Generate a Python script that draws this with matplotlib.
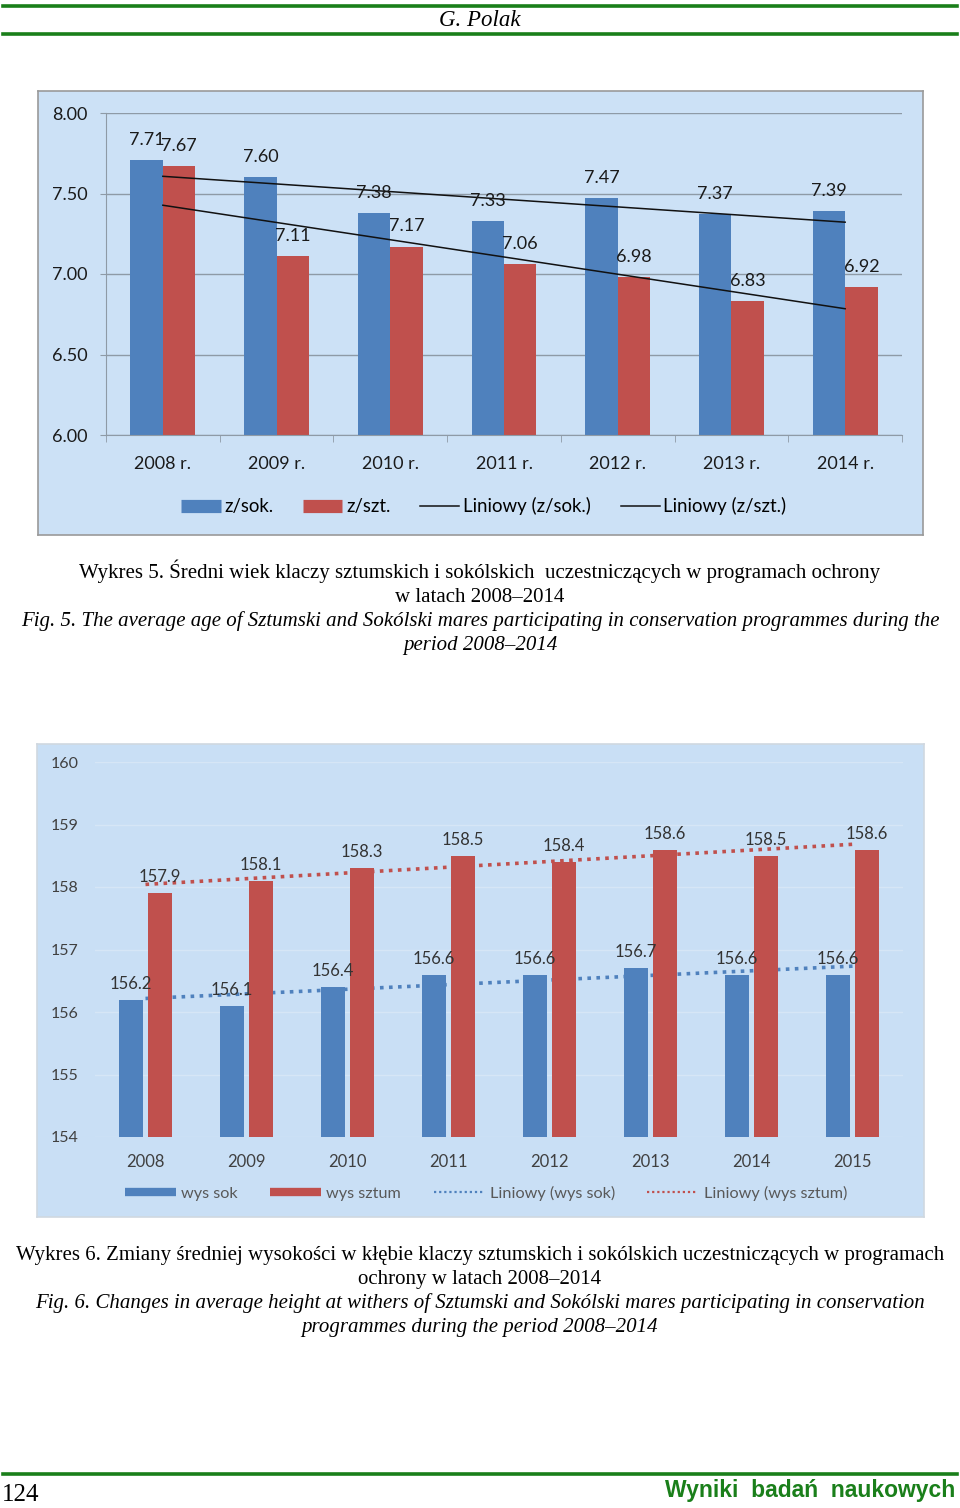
import numpy as np
import matplotlib
matplotlib.use("Agg")
import matplotlib.pyplot as plt
from matplotlib.lines import Line2D

# --- data: Wykres 5 (average age) ---
years5 = ["2008 r.", "2009 r.", "2010 r.", "2011 r.", "2012 r.", "2013 r.", "2014 r."]
age_sok = [7.71, 7.60, 7.38, 7.33, 7.47, 7.37, 7.39]
age_szt = [7.67, 7.11, 7.17, 7.06, 6.98, 6.83, 6.92]

# --- data: Wykres 6 (height at withers) ---
years6 = ["2008", "2009", "2010", "2011", "2012", "2013", "2014", "2015"]
wys_sok = [156.2, 156.1, 156.4, 156.6, 156.6, 156.7, 156.6, 156.6]
wys_sztum = [157.9, 158.1, 158.3, 158.5, 158.4, 158.6, 158.5, 158.6]

BLUE = "#4F81BD"
RED = "#C0504D"
GREEN = "#1A7F1A"
BG = "#CCE1F6"
SANS = ["Lato", "DejaVu Sans"]
SERIF = ["Liberation Serif", "DejaVu Serif"]

W, H = 960, 1508
fig = plt.figure(figsize=(W / 100, H / 100), dpi=100)


def rect(x0, y0, x1, y1):
    # pixel box (top-left origin) -> figure fraction
    return [x0 / W, 1 - y1 / H, (x1 - x0) / W, (y1 - y0) / H]


def fx(x):
    return x / W


def fy(y):
    return 1 - y / H


# page header / footer
for y in (6, 34, 1474):
    fig.add_artist(Line2D([fx(3), fx(957)], [fy(y), fy(y)], color=GREEN, lw=2.6))
fig.text(0.5, fy(26), "G. Polak", ha="center", va="baseline", fontsize=16.5,
         style="italic", family=SERIF)
fig.text(fx(2), fy(1495), "124", ha="left", va="center", fontsize=18, family=SERIF)
fig.text(fx(955), fy(1490), "Wyniki  badań  naukowych", ha="right", va="center",
         fontsize=16.5, weight="bold", color=GREEN, family=["Liberation Sans", "DejaVu Sans"])

# ---------------- chart 1 ----------------
bg1 = fig.add_axes(rect(38, 91, 923, 535))
bg1.set_facecolor(BG)
bg1.set_xticks([])
bg1.set_yticks([])
for s in bg1.spines.values():
    s.set_color("#9A9A9A")
    s.set_linewidth(1.2)

ax1 = fig.add_axes(rect(106, 113, 902, 435))
ax1.patch.set_alpha(0)
x5 = np.arange(len(years5))
bw = 0.285
ax1.bar(x5 - bw / 2, age_sok, bw, color=BLUE, zorder=2)
ax1.bar(x5 + bw / 2, age_szt, bw, color=RED, zorder=2)
for xi, v in zip(x5, age_sok):
    ax1.annotate(f"{v:.2f}", (xi - bw / 2, v), xytext=(0, 14.5), textcoords="offset points",
                 ha="center", va="center", fontsize=13, family=SANS, color="#1A1A1A", zorder=4)
for xi, v in zip(x5, age_szt):
    ax1.annotate(f"{v:.2f}", (xi + bw / 2, v), xytext=(0, 14.5), textcoords="offset points",
                 ha="center", va="center", fontsize=13, family=SANS, color="#1A1A1A", zorder=4)
# linear trends
for vals in (age_sok, age_szt):
    k, b = np.polyfit(x5, vals, 1)
    ax1.plot(x5[[0, -1]], k * x5[[0, -1]] + b, color="#111111", lw=1.1, zorder=3)

ax1.set_xlim(-0.5, len(years5) - 0.5)
ax1.set_ylim(6, 8)
ax1.set_yticks([6.0, 6.5, 7.0, 7.5, 8.0])
ax1.set_yticklabels([f"{t:.2f}" for t in [6.0, 6.5, 7.0, 7.5, 8.0]], family=SANS,
                    fontsize=13, color="#1A1A1A")
ax1.yaxis.grid(True, color="#8E9AA6", lw=1)
ax1.set_axisbelow(True)
ax1.set_xticks(x5)
ax1.set_xticklabels(years5, family=SANS, fontsize=13, color="#1A1A1A")
ax1.set_xticks(np.arange(-0.5, len(years5)), minor=True)
ax1.tick_params(axis="x", which="major", length=0, pad=15)
ax1.tick_params(axis="x", which="minor", length=5, color="#8E9AA6", direction="out")
ax1.tick_params(axis="y", length=4.5, color="#8E9AA6", pad=9)
for s in ("top", "right"):
    ax1.spines[s].set_visible(False)
for s in ("left", "bottom"):
    ax1.spines[s].set_color("#8E9AA6")

h1 = [Line2D([], [], color=BLUE, lw=9.5, solid_capstyle="butt"),
      Line2D([], [], color=RED, lw=9.5, solid_capstyle="butt"),
      Line2D([], [], color="#111111", lw=1.1),
      Line2D([], [], color="#111111", lw=1.1)]
fig.legend(h1, ["z/sok.", "z/szt.", "Liniowy (z/sok.)", "Liniowy (z/szt.)"],
           loc="center", bbox_to_anchor=(fx(484), fy(506)), ncol=4, frameon=False,
           handlelength=2.1, handletextpad=0.2, columnspacing=1.6,
           prop={"family": SANS, "size": 13.4})

cap5 = [("Wykres 5. Średni wiek klaczy sztumskich i sokólskich  uczestniczących w programach ochrony", "normal"),
        ("w latach 2008–2014", "normal"),
        ("Fig. 5. The average age of Sztumski and Sokólski mares participating in conservation programmes during the", "italic"),
        ("period 2008–2014", "italic")]
for i, (txt, st) in enumerate(cap5):
    fig.text(0.5, fy(578 + 24 * i), txt, ha="center", va="baseline", fontsize=15,
             family=SERIF, style=st)

# ---------------- chart 2 ----------------
bg2 = fig.add_axes(rect(37, 744, 924, 1217))
bg2.set_facecolor("#C9DFF5")
bg2.set_xticks([])
bg2.set_yticks([])
for s in bg2.spines.values():
    s.set_color("#D0D8E0")
    s.set_linewidth(1.2)

ax2 = fig.add_axes(rect(95, 762, 903, 1137))
ax2.patch.set_alpha(0)
x6 = np.arange(len(years6))
bw2 = 0.235
ax2.bar(x6 - 0.143, [v - 154 for v in wys_sok], bw2, bottom=154, color=BLUE, zorder=3)
ax2.bar(x6 + 0.14, [v - 154 for v in wys_sztum], bw2, bottom=154, color=RED, zorder=3)
for xi, v in zip(x6, wys_sok):
    ax2.annotate(f"{v:.1f}", (xi - 0.143, v), xytext=(0, 11.5), textcoords="offset points",
                 ha="center", va="center", fontsize=12, family=SANS, color="#333333", zorder=4)
for xi, v in zip(x6, wys_sztum):
    ax2.annotate(f"{v:.1f}", (xi + 0.14, v), xytext=(0, 11.5), textcoords="offset points",
                 ha="center", va="center", fontsize=12, family=SANS, color="#333333", zorder=4)
for vals, c in ((wys_sok, BLUE), (wys_sztum, RED)):
    k, b = np.polyfit(x6, vals, 1)
    ax2.plot(x6[[0, -1]], k * x6[[0, -1]] + b, color=c, lw=2.6, ls=(0, (1, 1.5)), zorder=2)

ax2.set_xlim(-0.5, len(years6) - 0.5)
ax2.set_ylim(154, 160)
ax2.set_yticks(range(154, 161))
ax2.set_yticklabels([str(t) for t in range(154, 161)], family=SANS, fontsize=11.5,
                    color="#404040")
ax2.yaxis.grid(True, color="#D6E6F6", lw=1)
ax2.set_axisbelow(True)
ax2.set_xticks(x6)
ax2.set_xticklabels(years6, family=SANS, fontsize=12, color="#404040")
ax2.tick_params(axis="both", length=0)
ax2.tick_params(axis="x", pad=12)
ax2.tick_params(axis="y", pad=12)
for s in ax2.spines.values():
    s.set_visible(False)

h2 = [Line2D([], [], color=BLUE, lw=6, solid_capstyle="butt"),
      Line2D([], [], color=RED, lw=6, solid_capstyle="butt"),
      Line2D([], [], color=BLUE, lw=1.6, ls=(0, (1, 1.3))),
      Line2D([], [], color=RED, lw=1.6, ls=(0, (1, 1.3)))]
fig.legend(h2, ["wys sok", "wys sztum", "Liniowy (wys sok)", "Liniowy (wys sztum)"],
           loc="center", bbox_to_anchor=(fx(486), fy(1193)), ncol=4, frameon=False,
           handlelength=3.1, handletextpad=0.35, columnspacing=2.0,
           prop={"family": SANS, "size": 11.7}, labelcolor="#595959")

cap6 = [("Wykres 6. Zmiany średniej wysokości w kłębie klaczy sztumskich i sokólskich uczestniczących w programach", "normal"),
        ("ochrony w latach 2008–2014", "normal"),
        ("Fig. 6. Changes in average height at withers of Sztumski and Sokólski mares participating in conservation", "italic"),
        ("programmes during the period 2008–2014", "italic")]
for i, (txt, st) in enumerate(cap6):
    fig.text(0.5, fy(1260 + 24 * i), txt, ha="center", va="baseline", fontsize=15,
             family=SERIF, style=st)

fig.savefig("out.png", dpi=100)
